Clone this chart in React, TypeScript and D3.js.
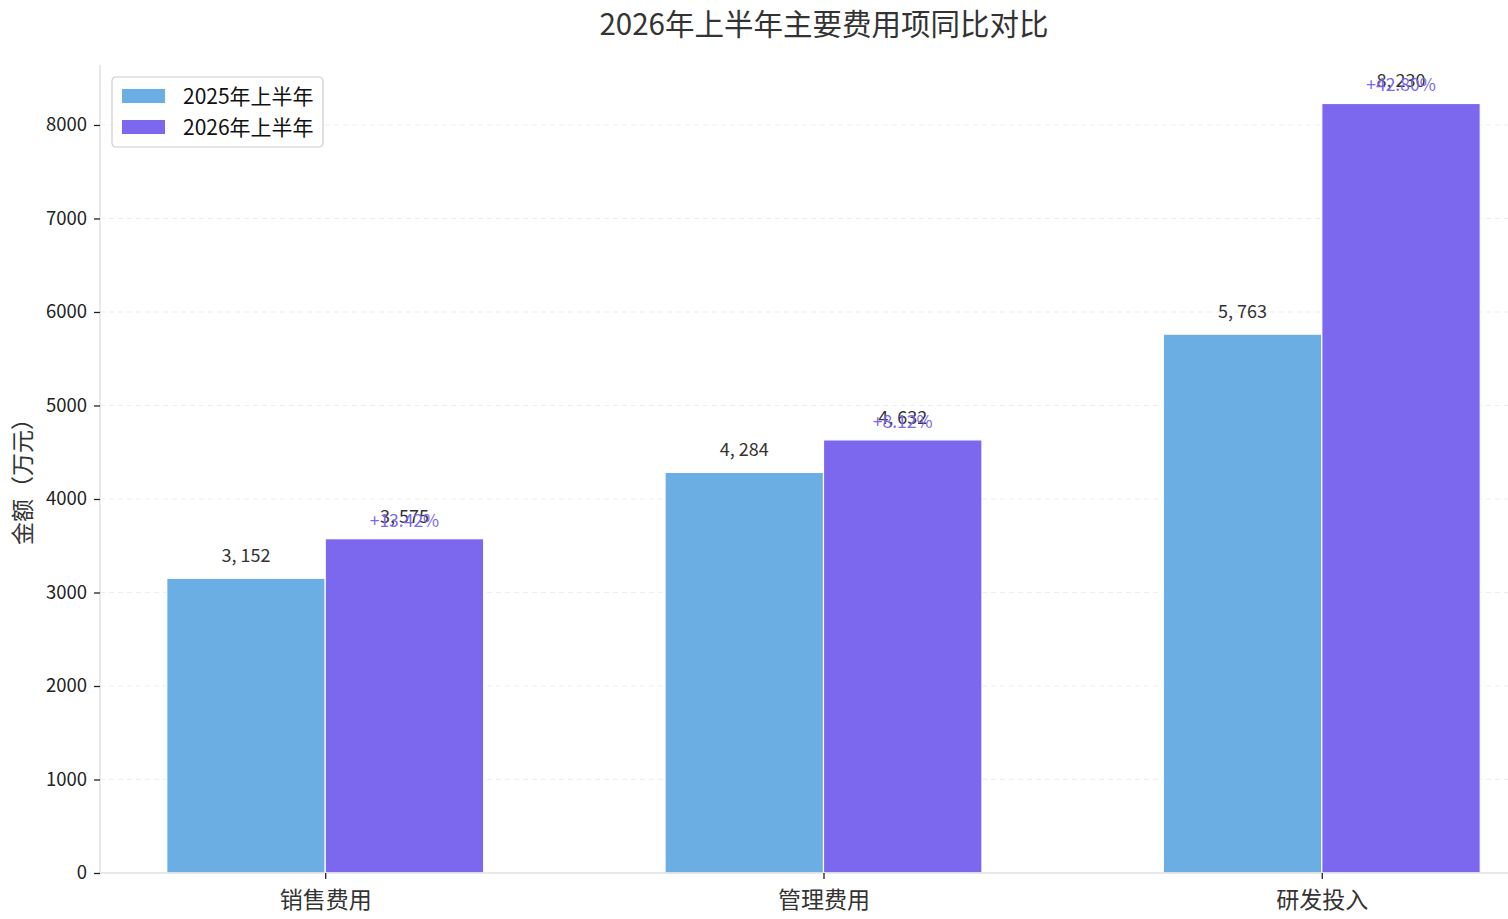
import React, { useEffect, useRef } from 'react';
import * as d3 from 'd3';

const categories = ['销售费用', '管理费用', '研发投入'];
const seriesNames = ['2025年上半年', '2026年上半年'];
const values2025 = [3152, 4284, 5763];
const values2026 = [3575, 4632, 8230];
const growthLabels = ['+13.42%', '+8.12%', '+42.80%'];
const yTicks = [0, 1000, 2000, 3000, 4000, 5000, 6000, 7000, 8000];

const W = 1508;
const H = 919;
const FONT = '"Noto Sans CJK SC", "Noto Sans", sans-serif';
const BLUE = '#6aaee4';
const PURPLE = '#7b68ee';

const App: React.FC = () => {
    const ref = useRef<SVGSVGElement>(null);

    useEffect(() => {
        const svg = d3.select(ref.current);
        svg.selectAll('*').remove();

        const left = 100, bottom = 873, top = 65;
        const barW = 0.318;
        // matplotlib-like margins, right side runs off the picture
        const x = d3.scaleLinear().domain([-0.452, 2.452]).range([left, 1547]);
        const y = d3.scaleLinear().domain([0, 8230 * 1.05]).range([bottom, top]);
        const fmt = (d: number) => d3.format(',')(d).replace(',', ', ');

        // grid
        svg.append('g')
            .selectAll('line')
            .data(yTicks.slice(1))
            .join('line')
            .attr('x1', left).attr('x2', W)
            .attr('y1', d => y(d)).attr('y2', d => y(d))
            .attr('stroke', '#e8e8e8')
            .attr('stroke-dasharray', '5,4')
            .attr('stroke-width', 0.8);

        // bars
        const bars = svg.append('g');
        bars.selectAll('rect.a')
            .data(values2025)
            .join('rect')
            .attr('class', 'a')
            .attr('x', (_, i) => x(i - barW))
            .attr('width', x(barW) - x(0))
            .attr('y', d => y(d))
            .attr('height', d => bottom - y(d))
            .attr('fill', BLUE)
            .attr('stroke', 'white')
            .attr('stroke-width', 1.2);
        bars.selectAll('rect.b')
            .data(values2026)
            .join('rect')
            .attr('class', 'b')
            .attr('x', (_, i) => x(i))
            .attr('width', x(barW) - x(0))
            .attr('y', d => y(d))
            .attr('height', d => bottom - y(d))
            .attr('fill', PURPLE)
            .attr('stroke', 'white')
            .attr('stroke-width', 1.2);

        // value labels
        const labels = svg.append('g').attr('font-family', FONT).attr('text-anchor', 'middle');
        labels.selectAll('text.a')
            .data(values2025)
            .join('text')
            .attr('class', 'a')
            .attr('x', (_, i) => x(i - barW / 2))
            .attr('y', d => y(d) - 16)
            .attr('font-size', 18)
            .attr('fill', '#333')
            .text(d => fmt(d));
        labels.selectAll('text.b')
            .data(values2026)
            .join('text')
            .attr('class', 'b')
            .attr('x', (_, i) => x(i + barW / 2))
            .attr('y', d => y(d) - 16)
            .attr('font-size', 18)
            .attr('fill', '#333')
            .text(d => fmt(d));
        labels.selectAll('text.g')
            .data(growthLabels)
            .join('text')
            .attr('class', 'g')
            .attr('x', (_, i) => x(i + barW / 2))
            .attr('y', (_, i) => y(values2026[i]) - 12)
            .attr('font-size', 17.5)
            .attr('fill', PURPLE)
            .text(d => d);

        // spines
        svg.append('line')
            .attr('x1', left).attr('x2', left).attr('y1', top).attr('y2', bottom)
            .attr('stroke', '#e0e0e0').attr('stroke-width', 1.5);
        svg.append('line')
            .attr('x1', left).attr('x2', W).attr('y1', bottom).attr('y2', bottom)
            .attr('stroke', '#e0e0e0').attr('stroke-width', 1.5);

        // y axis
        const yAxis = svg.append('g').attr('transform', `translate(${left},0)`)
            .call(d3.axisLeft(y).tickValues(yTicks).tickSize(6).tickPadding(7).tickFormat(d3.format('d')));
        yAxis.select('.domain').remove();
        yAxis.selectAll('line').attr('stroke', '#222').attr('stroke-width', 1.3);
        yAxis.selectAll('text').attr('font-family', FONT).attr('font-size', 18.5).attr('fill', '#222');

        // x axis
        const xAxis = svg.append('g').attr('transform', `translate(0,${bottom})`)
            .call(d3.axisBottom(x).tickValues([0, 1, 2]).tickSize(6).tickPadding(13)
                .tickFormat((d: any) => categories[d]));
        xAxis.select('.domain').remove();
        xAxis.selectAll('line').attr('stroke', '#222').attr('stroke-width', 1.3);
        xAxis.selectAll('text').attr('font-family', FONT).attr('font-size', 23).attr('fill', '#333');

        // title
        svg.append('text')
            .attr('x', 824).attr('y', 35)
            .attr('text-anchor', 'middle')
            .attr('font-family', FONT).attr('font-size', 29.5)
            .attr('fill', '#333')
            .text('2026年上半年主要费用项同比对比');

        // y label
        svg.append('text')
            .attr('transform', `translate(31,${(top + bottom) / 2 + 7}) rotate(-90)`)
            .attr('text-anchor', 'middle')
            .attr('font-family', FONT).attr('font-size', 23)
            .attr('fill', '#333')
            .text('金额（万元）');

        // legend
        const lg = svg.append('g').attr('transform', 'translate(112,77)');
        lg.append('rect')
            .attr('width', 211).attr('height', 70).attr('rx', 4)
            .attr('fill', 'white').attr('fill-opacity', 0.85)
            .attr('stroke', '#cccccc').attr('stroke-width', 1.2);
        const items = lg.selectAll('g.item')
            .data(seriesNames)
            .join('g')
            .attr('class', 'item')
            .attr('transform', (_, i) => `translate(10,${12 + i * 31})`);
        items.append('rect')
            .attr('width', 43).attr('height', 14)
            .attr('fill', (_, i) => (i === 0 ? BLUE : PURPLE));
        items.append('text')
            .attr('x', 61).attr('y', 15)
            .attr('font-family', FONT).attr('font-size', 21)
            .attr('fill', '#111')
            .text(d => d);
    }, []);

    return (
        <svg
            ref={ref}
            width={W}
            height={H}
            style={{ position: 'absolute', left: 0, top: 0, background: 'white' }}
        />
    );
};

export default App;
